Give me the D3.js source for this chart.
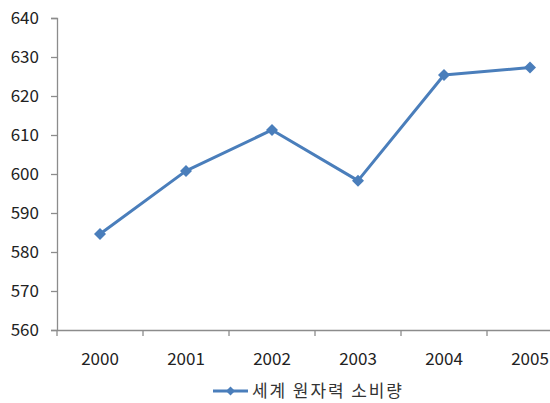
<!DOCTYPE html>
<html><head><meta charset="utf-8">
<script src="https://cdn.jsdelivr.net/npm/d3@7"></script>
<style>body{margin:0;background:#fff;overflow:hidden}svg{display:block}</style>
</head><body>
<svg id="c" width="550" height="403"></svg>
<script>
const categories = ["2000","2001","2002","2003","2004","2005"];
const values = [584.6, 600.8, 611.3, 598.3, 625.4, 627.3];
const yTicks = [560,570,580,590,600,610,620,630,640];
const seriesName = "세계 원자력 소비량";

const svg = d3.select("#c");
const font = "'Noto Sans CJK KR','Noto Sans',sans-serif";
const color = "#4A7EBB";
const axisColor = "#8C8C8C";

const x = d3.scaleBand().domain(categories).range([57, 573]);
const y = d3.scaleLinear().domain([560, 640]).range([330, 18]);

// y axis
const ya = svg.append("g").attr("transform","translate(57,0)")
  .call(d3.axisLeft(y).tickValues(yTicks).tickSize(6).tickPadding(12));
ya.select(".domain").attr("stroke", axisColor).attr("stroke-width",1.3);
ya.selectAll(".tick line").attr("stroke", axisColor).attr("stroke-width",1.3);
ya.selectAll("text").attr("font-family", font).attr("font-size", 17).attr("fill","#222");

// x axis
const xa = svg.append("g").attr("transform","translate(0,330)")
  .call(d3.axisBottom(x).tickSize(0).tickPadding(23));
xa.select(".domain").attr("stroke", axisColor).attr("stroke-width",1.3);
xa.selectAll("text").attr("font-family", font).attr("font-size", 17).attr("fill","#222");
xa.selectAll(".bound").data(categories).enter().append("line")
  .attr("x1", d => x(d)).attr("x2", d => x(d))
  .attr("y1", 0).attr("y2", 6).attr("stroke", axisColor).attr("stroke-width",1.3);

const cx = d => x(d) + x.bandwidth()/2;
const line = d3.line().x((d,i) => cx(categories[i])).y(d => y(d));
svg.append("path").datum(values).attr("d", line)
  .attr("fill","none").attr("stroke", color).attr("stroke-width",3).attr("stroke-linejoin","round");

const r = 6;
const diamond = `M0,${-r}L${r},0L0,${r}L${-r},0Z`;
svg.selectAll(".pt").data(values).enter().append("path")
  .attr("d", diamond)
  .attr("transform", (d,i) => `translate(${cx(categories[i])},${y(d)})`)
  .attr("fill", color);

// legend
const lg = svg.append("g").attr("transform","translate(213,391)");
lg.append("line").attr("x1",0).attr("x2",35).attr("stroke",color).attr("stroke-width",3);
lg.append("path").attr("d", `M0,-4.5L4.5,0L0,4.5L-4.5,0Z`).attr("transform","translate(17.5,0)").attr("fill",color);
lg.append("text").attr("x",39).attr("y",0).attr("dy","0.35em")
  .attr("font-family",font).attr("font-size",17).attr("fill","#333")
  .attr("textLength",150).attr("lengthAdjust","spacing").text(seriesName);
</script>
</body></html>
